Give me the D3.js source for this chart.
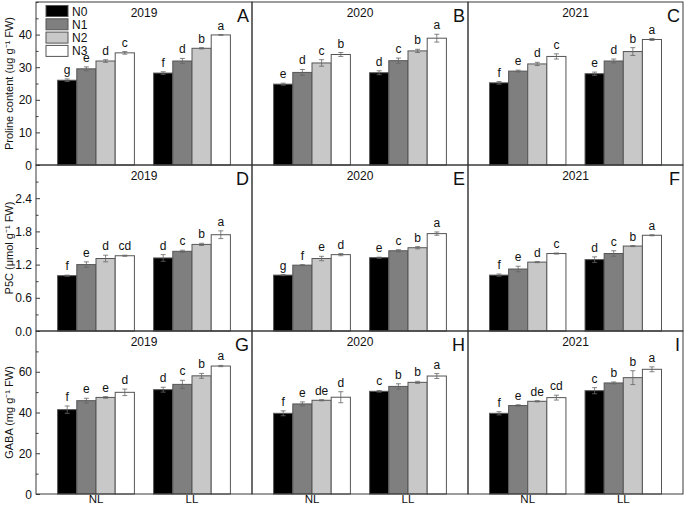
<!DOCTYPE html>
<html><head><meta charset="utf-8">
<script src="https://cdn.jsdelivr.net/npm/d3@7"></script>
<style>body{margin:0;background:#fff}svg{display:block;font-family:"Liberation Sans",Arial,sans-serif}</style>
</head><body><svg id="c" width="685" height="506"></svg>
<script>
const groups = ["NL","LL"];
const treatments = ["N0","N1","N2","N3"];
const years = ["2019","2020","2021"];
const panelLetters = [["A","B","C"],["D","E","F"],["G","H","I"]];
const rowTitles = ["Proline content (ug g\u207B\u00B9 FW)","P5C (\u03BCmol g\u207B\u00B9 FW)","GABA (mg g\u207B\u00B9 FW)"];
const rowDomains = [[0,50],[0,3.0]];
rowDomains.push([0,80]);
const rowTickLabels = [[0,10,20,30,40],[0,0.6,1.2,1.8,2.4],[0,20,40,60]];
const rowMinorTicks = [[5,15,25,35,45,50],[0.3,0.9,1.5,2.1,2.7,3.0],[10,30,50,70,80]];
const rowTickFormats = [d3.format("d"), d3.format(".1f"), d3.format("d")];

// values: [NL: N0..N3], [LL: N0..N3]
const proline2019 = [[26.0,29.5,31.9,34.4],[28.2,31.9,35.8,39.9]];
const proline2019Err = [[0.4,0.6,0.4,0.4],[0.4,0.8,0.2,0.1]];
const proline2019Letters = [["g","e","d","c"],["f","d","b","a"]];
const proline2020 = [[24.8,28.4,31.3,33.9],[28.3,32.0,35.0,38.9]];
const proline2020Err = [[0.3,0.9,1.0,0.6],[0.6,0.8,0.5,1.2]];
const proline2020Letters = [["e","d","c","b"],["d","c","b","a"]];
const proline2021 = [[25.2,28.8,31.0,33.3],[28.0,31.9,34.8,38.5]];
const proline2021Err = [[0.4,0.3,0.5,0.8],[0.5,0.6,1.2,0.3]];
const proline2021Letters = [["f","e","d","c"],["e","d","b","a"]];

const p5c2019 = [[1.00,1.20,1.31,1.36],[1.32,1.44,1.565,1.74]];
const p5c2019Err = [[0.01,0.05,0.06,0.01],[0.06,0.02,0.02,0.07]];
const p5c2019Letters = [["f","e","d","cd"],["d","c","b","a"]];
const p5c2020 = [[1.01,1.19,1.31,1.38],[1.325,1.45,1.505,1.76]];
const p5c2020Err = [[0.01,0.01,0.04,0.02],[0.01,0.02,0.02,0.03]];
const p5c2020Letters = [["g","f","e","d"],["e","c","b","a"]];
const p5c2021 = [[1.01,1.12,1.245,1.40],[1.29,1.40,1.535,1.73]];
const p5c2021Err = [[0.02,0.05,0.01,0.01],[0.05,0.05,0.01,0.01]];
const p5c2021Letters = [["f","e","d","c"],["d","c","b","a"]];

const gaba2019 = [[41.4,45.8,47.4,49.9],[51.2,53.8,58.0,62.8]];
const gaba2019Err = [[1.8,1.2,0.4,1.6],[1.2,2.0,1.2,0.3]];
const gaba2019Letters = [["f","e","e","d"],["d","c","b","a"]];
const gaba2020 = [[39.6,44.2,46.0,47.5],[50.4,52.8,54.8,57.9]];
const gaba2020Err = [[1.2,1.0,0.3,2.7],[0.4,1.3,0.5,1.2]];
const gaba2020Letters = [["f","e","de","d"],["c","b","b","a"]];
const gaba2021 = [[39.6,43.4,45.5,47.3],[50.7,54.5,57.1,61.2]];
const gaba2021Err = [[0.8,0.4,0.3,1.2],[1.5,0.5,3.4,1.2]];
const gaba2021Letters = [["f","e","de","cd"],["c","b","b","a"]];

const panels = [
  [[proline2019,proline2019Err,proline2019Letters],[proline2020,proline2020Err,proline2020Letters],[proline2021,proline2021Err,proline2021Letters]],
  [[p5c2019,p5c2019Err,p5c2019Letters],[p5c2020,p5c2020Err,p5c2020Letters],[p5c2021,p5c2021Err,p5c2021Letters]],
  [[gaba2019,gaba2019Err,gaba2019Letters],[gaba2020,gaba2020Err,gaba2020Letters],[gaba2021,gaba2021Err,gaba2021Letters]]
];

const fills = ["#000000","#7f7f7f","#c8c8c8","#ffffff"];
const colX = [[36,252],[252,468],[468,683]];
const rowY = [[165,2],[331,165],[494,331]];
const lineColor = "#3a3a3a";

const svg = d3.select("#c");

panels.forEach((row, r) => {
  const y = d3.scaleLinear().domain(rowDomains[r]).range(rowY[r]);
  row.forEach((cell, c) => {
    const [vals, errs, letters] = cell;
    const x = d3.scaleLinear().domain([0.375, 2.625]).range(colX[c]);
    const bw = x(0.2) - x(0);
    const g = svg.append("g");
    groups.forEach((grp, gi) => {
      treatments.forEach((t, ti) => {
        const cx = x(gi + 1 + (ti - 1.5) * 0.2);
        const v = vals[gi][ti], e = errs[gi][ti];
        g.append("rect").attr("x", cx - bw/2).attr("y", y(v))
          .attr("width", bw).attr("height", y(rowDomains[r][0]) - y(v))
          .attr("fill", fills[ti]).attr("stroke", "#555").attr("stroke-width", 1);
        const top = y(v + e), bot = y(v - e);
        g.append("line").attr("x1", cx).attr("x2", cx).attr("y1", top).attr("y2", bot).attr("stroke", "#666").attr("stroke-width", 0.8);
        g.append("line").attr("x1", cx-2.5).attr("x2", cx+2.5).attr("y1", top).attr("y2", top).attr("stroke", "#666").attr("stroke-width", 0.8);
        g.append("line").attr("x1", cx-2.5).attr("x2", cx+2.5).attr("y1", bot).attr("y2", bot).attr("stroke", "#666").attr("stroke-width", 0.8);
        g.append("text").attr("x", cx).attr("y", top - 5).attr("text-anchor", "middle")
          .attr("font-size", 12).attr("fill", "#111").text(letters[gi][ti]);
      });
    });
    // frame
    g.append("rect").attr("x", colX[c][0]).attr("y", rowY[r][1]).attr("width", colX[c][1]-colX[c][0])
      .attr("height", rowY[r][0]-rowY[r][1]).attr("fill", "none").attr("stroke", lineColor).attr("stroke-width", 1);
    // year
    g.append("text").attr("x", (colX[c][0]+colX[c][1])/2).attr("y", rowY[r][1] + 15)
      .attr("text-anchor", "middle").attr("font-size", 12).attr("fill", "#111").text(years[c]);
    // panel letter
    g.append("text").attr("x", colX[c][1] - 3).attr("y", rowY[r][1] + 20)
      .attr("text-anchor", "end").attr("font-size", 18).attr("fill", "#111").text(panelLetters[r][c]);
    // x labels on bottom row
    if (r === 2) {
      groups.forEach((grp, gi) => {
        svg.append("text").attr("x", x(gi+1)).attr("y", 503).attr("text-anchor", "middle")
          .attr("font-size", 11.5).attr("fill", "#111").text(grp);
      });
    }
  });
  // y axis on left
  const ax = svg.append("g").attr("transform", `translate(${colX[0][0]},0)`);
  ax.call(d3.axisRight(y).tickValues(rowTickLabels[r]).tickSize(4).tickFormat(""));
  ax.call(g => g.select(".domain").remove());
  ax.selectAll("line").attr("stroke", lineColor);
  const mx = svg.append("g").attr("transform", `translate(${colX[0][0]},0)`);
  mx.call(d3.axisRight(y).tickValues(rowMinorTicks[r]).tickSize(2.5).tickFormat(""));
  mx.call(g => g.select(".domain").remove());
  mx.selectAll("line").attr("stroke", lineColor);
  rowTickLabels[r].forEach(t => {
    svg.append("text").attr("x", 32).attr("y", y(t) + 4.5).attr("text-anchor", "end")
      .attr("font-size", 12).attr("fill", "#111").text(rowTickFormats[r](t));
  });
  svg.append("text").attr("transform", `translate(13,${(rowY[r][0]+rowY[r][1])/2}) rotate(-90)`)
    .attr("text-anchor", "middle").attr("font-size", 11).attr("fill", "#111").text(rowTitles[r]);
});

// legend
const leg = svg.append("g");
treatments.forEach((t, i) => {
  leg.append("rect").attr("x", 46).attr("y", 5.5 + i*13.3).attr("width", 22).attr("height", 11)
    .attr("fill", fills[i]).attr("stroke", "#555");
  leg.append("text").attr("x", 72).attr("y", 15.5 + i*13.3).attr("font-size", 12).attr("fill", "#111").text(t);
});
</script></body></html>
